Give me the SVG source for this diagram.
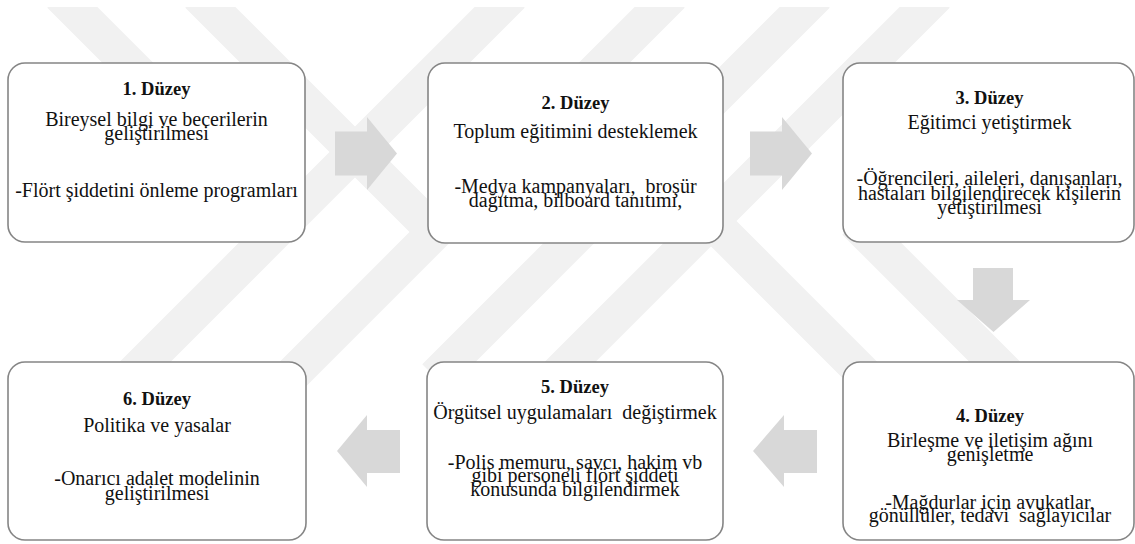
<svg xmlns="http://www.w3.org/2000/svg" width="1135" height="544" viewBox="0 0 1135 544">
<style>
.wm{stroke:#f1f1f1;stroke-width:36;fill:none;stroke-linecap:butt}
.box{fill:#ffffff;stroke:#858585;stroke-width:1.6}
.arr{fill:#d8d8d8;stroke:none}
</style>
<defs>
<clipPath id="clipTop"><rect x="0" y="7" width="1135" height="537"/></clipPath>
</defs>
<rect width="1135" height="544" fill="#ffffff"/>
<g id="watermark" clip-path="url(#clipTop)">
<line class="wm" x1="60" y1="-5" x2="290" y2="225"/>
<line class="wm" x1="198" y1="-5" x2="440" y2="237"/>
<line class="wm" x1="512" y1="-5" x2="130" y2="377"/>
<line class="wm" x1="672" y1="-5" x2="290" y2="377"/>
<line class="wm" x1="817" y1="-5" x2="435" y2="377"/>
<line class="wm" x1="937" y1="-5" x2="555" y2="377"/>
<line class="wm" x1="700" y1="210" x2="880" y2="390"/>
<line class="wm" x1="855" y1="222" x2="1010" y2="377"/>
</g>
<g id="connectors">
<polygon class="arr" points="335,131.5 367,131.5 367,117 397,153.5 367,190 367,175.5 335,175.5"/>
<polygon class="arr" points="750,131.5 782,131.5 782,117 812,153.5 782,190 782,175.5 750,175.5"/>
<polygon class="arr" points="973,268 1013,268 1013,300 1030,300 993.5,332 957,300 973,300"/>
<polygon class="arr" points="817,430 784,430 784,415 753,451 784,487 784,473 817,473"/>
<polygon class="arr" points="400,430 367,430 367,415 337,451 367,487 367,473 400,473"/>
</g>
<g id="node1">
<rect class="box" x="8" y="63" width="297" height="179" rx="17"/>
<text x="156.5" y="95" font-family="Liberation Serif, serif" font-size="18.5" font-weight="bold" fill="#111111" text-anchor="middle">1. Düzey</text>
<text x="156.5" y="125.5" font-family="Liberation Serif, serif" font-size="20" fill="#111111" text-anchor="middle">Bireysel bilgi ve becerilerin</text>
<text x="156.5" y="139.5" font-family="Liberation Serif, serif" font-size="20" fill="#111111" text-anchor="middle">geliştirilmesi</text>
<text x="156.5" y="197" font-family="Liberation Serif, serif" font-size="20" fill="#111111" text-anchor="middle">-Flört şiddetini önleme programları</text>
</g>
<g id="node2">
<rect class="box" x="428" y="63" width="295" height="180" rx="17"/>
<text x="575.5" y="109" font-family="Liberation Serif, serif" font-size="18.5" font-weight="bold" fill="#111111" text-anchor="middle">2. Düzey</text>
<text x="575.5" y="137.5" font-family="Liberation Serif, serif" font-size="20" fill="#111111" text-anchor="middle">Toplum eğitimini desteklemek</text>
<text x="575.5" y="193" xml:space="preserve" font-family="Liberation Serif, serif" font-size="20" fill="#111111" text-anchor="middle">-Medya kampanyaları,  broşür</text>
<text x="575.5" y="207" font-family="Liberation Serif, serif" font-size="20" fill="#111111" text-anchor="middle">dağıtma, bilboard tanıtımı,</text>
</g>
<g id="node3">
<rect class="box" x="843" y="63" width="291" height="179" rx="17"/>
<text x="989.5" y="104" font-family="Liberation Serif, serif" font-size="18.5" font-weight="bold" fill="#111111" text-anchor="middle">3. Düzey</text>
<text x="989.5" y="128.5" font-family="Liberation Serif, serif" font-size="20" fill="#111111" text-anchor="middle">Eğitimci yetiştirmek</text>
<text x="989.5" y="185" font-family="Liberation Serif, serif" font-size="20" fill="#111111" text-anchor="middle">-Öğrencileri, aileleri, danışanları,</text>
<text x="989.5" y="199.5" font-family="Liberation Serif, serif" font-size="20" fill="#111111" text-anchor="middle">hastaları bilgilendirecek kişilerin</text>
<text x="989.5" y="213.5" font-family="Liberation Serif, serif" font-size="20" fill="#111111" text-anchor="middle">yetiştirilmesi</text>
</g>
<g id="node4">
<rect class="box" x="843" y="362" width="291" height="178" rx="17"/>
<text x="990" y="421.5" font-family="Liberation Serif, serif" font-size="18.5" font-weight="bold" fill="#111111" text-anchor="middle">4. Düzey</text>
<text x="990" y="446.5" font-family="Liberation Serif, serif" font-size="20" fill="#111111" text-anchor="middle">Birleşme ve iletişim ağını</text>
<text x="990" y="460.5" font-family="Liberation Serif, serif" font-size="20" fill="#111111" text-anchor="middle">genişletme</text>
<text x="990" y="508.5" font-family="Liberation Serif, serif" font-size="20" fill="#111111" text-anchor="middle">-Mağdurlar için avukatlar,</text>
<text x="990" y="522" xml:space="preserve" font-family="Liberation Serif, serif" font-size="20" fill="#111111" text-anchor="middle">gönüllüler, tedavi  sağlayıcılar</text>
</g>
<g id="node5">
<rect class="box" x="427" y="362" width="296" height="178" rx="17"/>
<text x="575" y="393" font-family="Liberation Serif, serif" font-size="18.5" font-weight="bold" fill="#111111" text-anchor="middle">5. Düzey</text>
<text x="575" y="418.5" xml:space="preserve" font-family="Liberation Serif, serif" font-size="20" fill="#111111" text-anchor="middle">Örgütsel uygulamaları  değiştirmek</text>
<text x="575" y="468.5" font-family="Liberation Serif, serif" font-size="20" fill="#111111" text-anchor="middle">-Polis memuru, savcı, hakim vb</text>
<text x="575" y="482" font-family="Liberation Serif, serif" font-size="20" fill="#111111" text-anchor="middle">gibi personeli flört şiddeti</text>
<text x="575" y="495.5" font-family="Liberation Serif, serif" font-size="20" fill="#111111" text-anchor="middle">konusunda bilgilendirmek</text>
</g>
<g id="node6">
<rect class="box" x="8" y="362" width="298" height="178" rx="17"/>
<text x="157" y="405" font-family="Liberation Serif, serif" font-size="18.5" font-weight="bold" fill="#111111" text-anchor="middle">6. Düzey</text>
<text x="157" y="431.5" font-family="Liberation Serif, serif" font-size="20" fill="#111111" text-anchor="middle">Politika ve yasalar</text>
<text x="157" y="485" font-family="Liberation Serif, serif" font-size="20" fill="#111111" text-anchor="middle">-Onarıcı adalet modelinin</text>
<text x="157" y="499.5" font-family="Liberation Serif, serif" font-size="20" fill="#111111" text-anchor="middle">geliştirilmesi</text>
</g>
</svg>
